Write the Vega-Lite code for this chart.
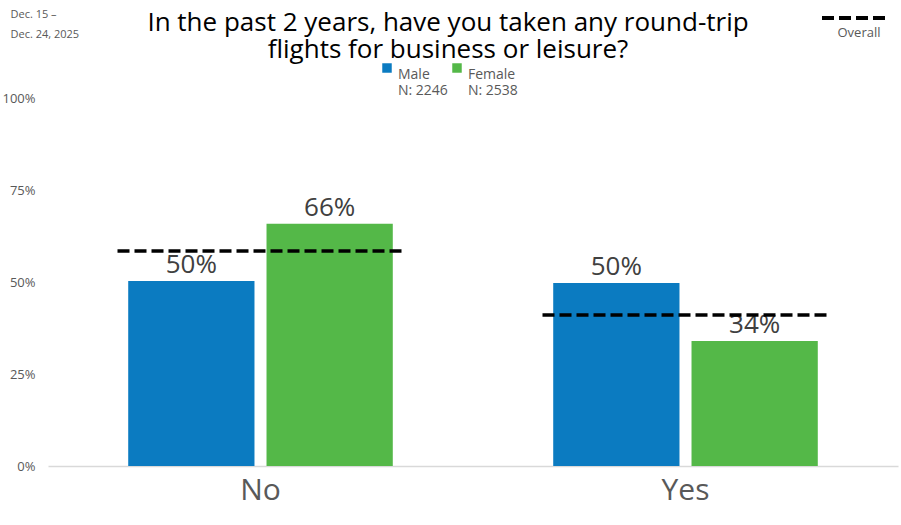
{
  "$schema": "https://vega.github.io/schema/vega-lite/v6.json",
  "width": 850,
  "height": 368,
  "autosize": {"type": "none"},
  "padding": {"top": 98, "left": 48, "right": 3, "bottom": 59},
  "background": "white",
  "config": {
    "view": {"stroke": null},
    "font": "Open Sans"
  },
  "title": {
    "text": ["In the past 2 years, have you taken any round-trip", "flights for business or leisure?"],
    "fontSize": 26,
    "fontWeight": 500,
    "color": "#000000",
    "lineHeight": 27,
    "anchor": "middle",
    "dx": -25,
    "offset": -81
  },
  "datasets": {
    "bars": [
      {"answer": "No", "gender": "Male", "value": 0.503},
      {"answer": "No", "gender": "Female", "value": 0.658},
      {"answer": "Yes", "gender": "Male", "value": 0.497},
      {"answer": "Yes", "gender": "Female", "value": 0.340}
    ],
    "overall": [
      {"answer": "No", "value": 0.584, "series": "Overall"},
      {"answer": "Yes", "value": 0.41, "series": "Overall"}
    ]
  },
  "layer": [
    {
      "data": {"name": "bars"},
      "mark": {"type": "bar"},
      "encoding": {
        "x": {
          "field": "answer", "type": "nominal", "sort": ["No", "Yes"],
          "scale": {"paddingInner": 0, "paddingOuter": 0},
          "axis": {
            "title": null, "labelAngle": 0, "labelFontSize": 30, "labelColor": "#595959",
            "ticks": false, "domainColor": "#d9d9d9", "domainWidth": 1.5, "labelPadding": 9
          }
        },
        "xOffset": {
          "field": "gender", "type": "nominal", "sort": ["Male", "Female"],
          "scale": {"paddingInner": 0.087, "paddingOuter": 0.58}
        },
        "y": {
          "field": "value", "type": "quantitative",
          "scale": {"domain": [0, 1]},
          "axis": {
            "values": [0, 0.25, 0.5, 0.75, 1], "format": ".0%", "grid": false, "ticks": false,
            "domain": false, "labelFontSize": 13, "labelColor": "#595959", "labelPadding": 13,
            "title": ["Dec. 15 –", "Dec. 24, 2025"], "titleAngle": 0, "titleAlign": "left",
            "titleBaseline": "top", "titleX": -38, "titleY": -90, "titleFontSize": 11,
            "titleFontWeight": "normal", "titleColor": "#595959", "titleLineHeight": 20
          }
        },
        "color": {
          "field": "gender", "type": "nominal", "sort": ["Male", "Female"],
          "scale": {"domain": ["Male", "Female"], "range": ["#0B7BC1", "#54B848"]},
          "legend": {
            "orient": "none", "legendX": 332, "legendY": -37, "direction": "horizontal",
            "title": null, "symbolType": "square", "symbolSize": 90, "labelFontSize": 14,
            "labelColor": "#595959", "columnPadding": 2, "symbolOffset": 0,
            "labelBaseline": "top", "labelOffset": 4,
            "labelExpr": "datum.label == 'Male' ? ['Male', 'N: 2246'] : ['Female', 'N: 2538']"
          }
        }
      }
    },
    {
      "data": {"name": "bars"},
      "mark": {"type": "text", "fontSize": 26, "color": "#404040", "baseline": "bottom", "dy": -3},
      "encoding": {
        "x": {"field": "answer", "type": "nominal", "sort": ["No", "Yes"]},
        "xOffset": {"field": "gender", "type": "nominal", "sort": ["Male", "Female"]},
        "y": {"field": "value", "type": "quantitative"},
        "text": {"field": "value", "type": "quantitative", "format": ".0%"}
      }
    },
    {
      "data": {"name": "overall"},
      "mark": {"type": "rule", "strokeWidth": 3.5, "color": "#000000", "xOffset": -143, "x2Offset": 144},
      "encoding": {
        "x": {"field": "answer", "type": "nominal", "sort": ["No", "Yes"]},
        "x2": {"field": "answer"},
        "y": {"field": "value", "type": "quantitative"},
        "strokeDash": {
          "field": "series", "type": "nominal",
          "scale": {"domain": ["Overall"], "range": [[12, 5]]},
          "legend": {
            "orient": "none", "legendX": 772, "legendY": -116, "title": "Overall",
            "titleOrient": "bottom", "titleFontSize": 13, "titleFontWeight": "normal",
            "titleColor": "#595959", "titleAnchor": "middle", "labelExpr": "''",
            "symbolType": "stroke", "symbolSize": 4624, "symbolStrokeWidth": 4,
            "symbolStrokeColor": "#000000", "labelOffset": 0, "titlePadding": 1
          }
        }
      }
    }
  ]
}
